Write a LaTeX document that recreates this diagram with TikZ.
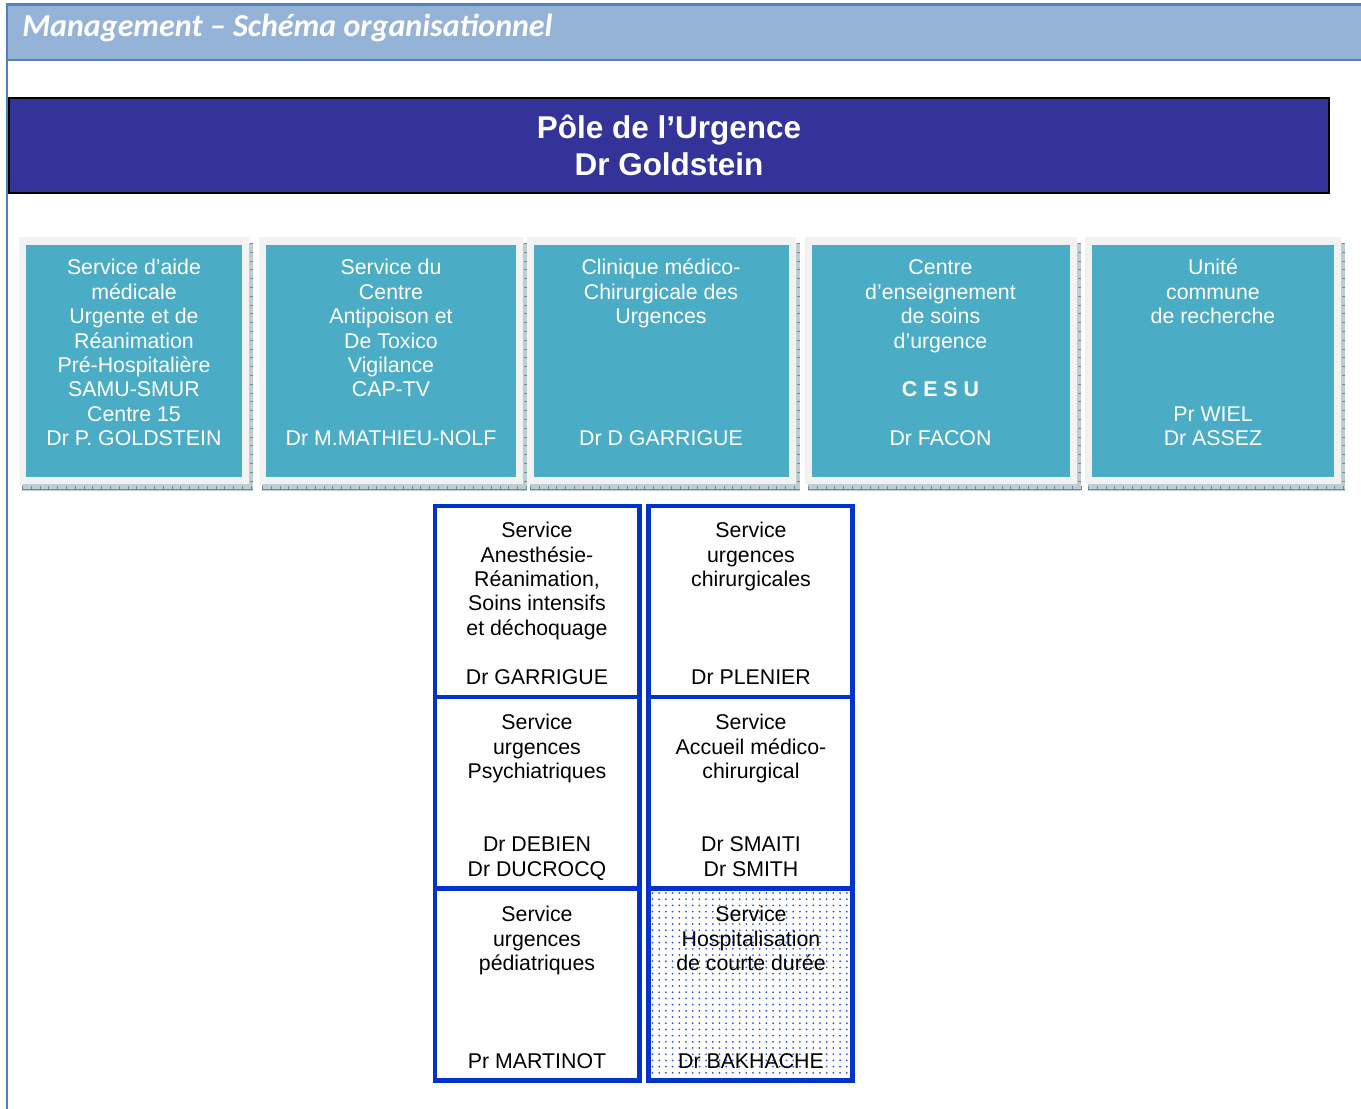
\documentclass[tikz,border=0pt]{standalone}
\usepackage{fontspec}
\setmainfont{Liberation Sans}
\newfontfamily\headfont{Carlito}
\definecolor{bandfill}{HTML}{95B3D7}
\definecolor{bandline}{HTML}{4F81BD}
\definecolor{polenavy}{HTML}{333399}
\definecolor{unitteal}{HTML}{4BACC6}
\definecolor{framegrey}{HTML}{F2F2F2}
\definecolor{shadowgrey}{HTML}{BFCDD3}
\definecolor{shadowtick}{HTML}{6E8C98}
\definecolor{cellblue}{HTML}{0033CC}
\definecolor{dotblue}{HTML}{2B55D9}

% framed teal unit box with its ticked drop shadow: #1 = left edge, #2 = right edge
\newcommand\orgunitframe[2]{%
  \fill[shadowgrey] (#1+3,243) rectangle (#2+4,491);
  \draw[shadowtick, line width=3.5pt, dash pattern=on 0.6pt off 6pt] (#1+3,488) -- (#2+4,488);
  \draw[shadowtick, line width=0.4pt] (#1+3,489) -- (#2+4,489);
  \draw[shadowtick, line width=2.5pt, dash pattern=on 0.6pt off 6pt] (#2+2.5,243) -- (#2+2.5,491);
  \fill[framegrey] (#1,237) rectangle (#2,484);
  \fill[unitteal] (#1+7,245) rectangle (#2-7,477);
}

\begin{document}
\begin{tikzpicture}[x=0.75pt,y=-0.75pt,
  unitlabel/.style={anchor=north, inner sep=0pt, align=center, text=white,
    font=\fontsize{16}{18.3}\selectfont},
  celllabel/.style={anchor=north, inner sep=0pt, align=center, text=black,
    font=\fontsize{16}{18.3}\selectfont},
  cellbox/.style={draw=cellblue, line width=3.4pt},
  polelabel/.style={anchor=north, inner sep=0pt, align=center, text=white,
    font=\bfseries\fontsize{23.6}{27.75}\selectfont}]

\useasboundingbox (0,0) rectangle (1361,1108);
\fill[white] (0,0) rectangle (1361,1108);

% page header band and left margin rule
\fill[bandfill] (7,4.5) rectangle (1366,60);
\draw[bandline, line width=2pt] (7,4.5) -- (1366,4.5);
\draw[bandline, line width=2.2pt] (7,60) -- (1366,60);
\draw[bandline, line width=1.8pt] (7.2,3) -- (7.2,1112);
\node[anchor=base west, inner sep=0pt, text=white,
  font=\headfont\bfseries\itshape\fontsize{24}{29}\selectfont] (title) at (22,36)
  {Management – Schéma organisationnel};

% pole banner
\filldraw[fill=polenavy, draw=black, line width=1.5pt] (8.5,98) rectangle (1328.5,192.5);
\node[polelabel] (pole) at (669,112) {\strut Pôle de l’Urgence\\Dr Goldstein};

% teal unit boxes
\orgunitframe{19}{249}
\orgunitframe{259}{523}
\orgunitframe{527}{796}
\orgunitframe{805}{1077}
\orgunitframe{1085}{1341}

\node[unitlabel] (samu) at (134,257.6)
  {\strut Service d’aide\\médicale\\Urgente et de\\Réanimation\\Pré-Hospitalière\\SAMU-SMUR\\Centre 15\\Dr P. GOLDSTEIN};
\node[unitlabel] (captv) at (391,257.6)
  {\strut Service du\\Centre\\Antipoison et\\De Toxico\\Vigilance\\CAP-TV\\\mbox{}\\Dr M.MATHIEU-NOLF};
\node[unitlabel] (clinique) at (661,257.6)
  {\strut Clinique médico-\\Chirurgicale des\\Urgences\\\mbox{}\\\mbox{}\\\mbox{}\\\mbox{}\\Dr D GARRIGUE};
\node[unitlabel] (cesu) at (940.5,257.6)
  {\strut Centre\\d’enseignement\\de soins\\d’urgence\\\mbox{}\\\textbf{C E S U}\\\mbox{}\\Dr FACON};
\node[unitlabel] (recherche) at (1213,257.6)
  {\strut Unité\\commune\\de recherche\\\mbox{}\\\mbox{}\\\mbox{}\\Pr WIEL\\Dr ASSEZ};

% dotted background of the short-stay cell
\begin{scope}
  \clip (650.75,890.75) rectangle (850.25,1078.25);
  \foreach \i in {0,...,30}
    \foreach \j in {0,...,30}
      \fill[dotblue] (652.5+6.7*\i,893+6.2*\j) circle (1);
\end{scope}

% service cells
\draw[cellbox] (435,506) rectangle (639.5,697);
\draw[cellbox] (648.5,506) rectangle (852.5,697);
\draw[cellbox] (435,697) rectangle (639.5,888.5);
\draw[cellbox] (648.5,697) rectangle (852.5,888.5);
\draw[cellbox] (435,888.5) rectangle (639.5,1080.5);
\draw[cellbox] (648.5,888.5) rectangle (852.5,1080.5);

\node[celllabel] (anesth) at (537,520.4)
  {\strut Service\\Anesthésie-\\Réanimation,\\Soins intensifs\\et déchoquage\\\mbox{}\\Dr GARRIGUE};
\node[celllabel] (chir) at (751,520.4)
  {\strut Service\\urgences\\chirurgicales\\\mbox{}\\\mbox{}\\\mbox{}\\Dr PLENIER};
\node[celllabel] (psy) at (537,712.4)
  {\strut Service\\urgences\\Psychiatriques\\\mbox{}\\\mbox{}\\Dr DEBIEN\\Dr DUCROCQ};
\node[celllabel] (accueil) at (751,712.4)
  {\strut Service\\Accueil médico-\\chirurgical\\\mbox{}\\\mbox{}\\Dr SMAITI\\Dr SMITH};
\node[celllabel] (pedia) at (537,904.4)
  {\strut Service\\urgences\\pédiatriques\\\mbox{}\\\mbox{}\\\mbox{}\\Pr MARTINOT};
\node[celllabel] (courte) at (751,904.4)
  {\strut Service\\Hospitalisation\\de courte durée\\\mbox{}\\\mbox{}\\\mbox{}\\Dr BAKHACHE};

\end{tikzpicture}
\end{document}
